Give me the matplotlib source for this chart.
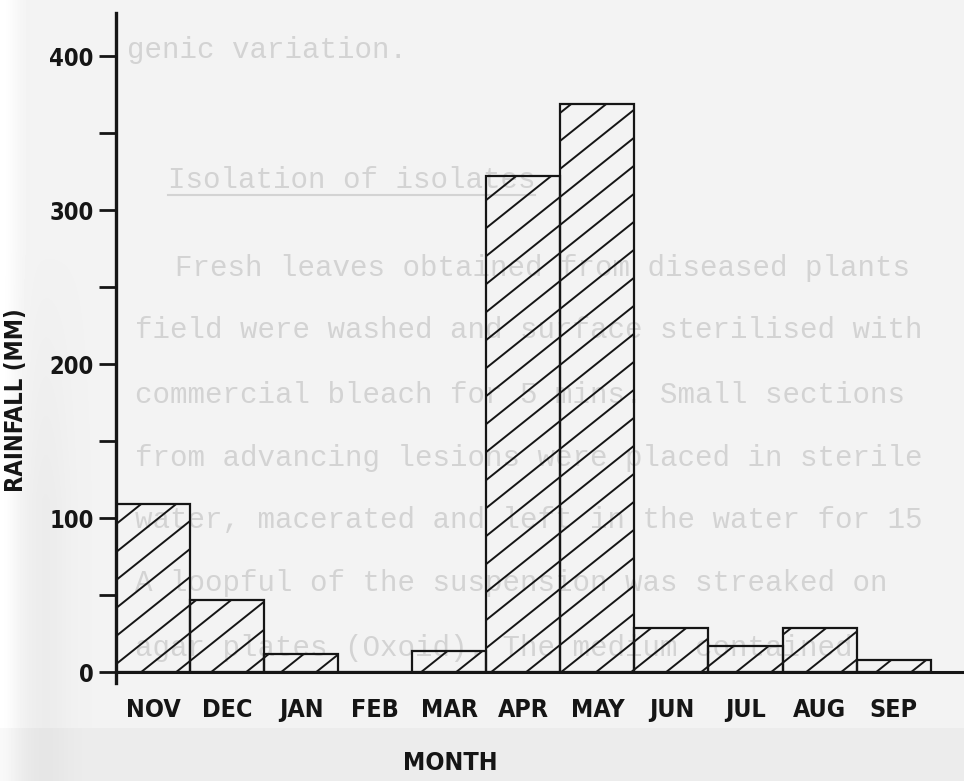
import numpy as np
import matplotlib
matplotlib.use('Agg')
import matplotlib.pyplot as plt
from matplotlib import font_manager as fm
from matplotlib.collections import LineCollection
from matplotlib.lines import Line2D
from matplotlib.transforms import IdentityTransform

# rainfall per month (mm)
months = ['NOV', 'DEC', 'JAN', 'FEB', 'MAR', 'APR', 'MAY', 'JUN', 'JUL', 'AUG', 'SEP']
rainfall = [109, 47, 12, 0, 14, 322, 369, 29, 17, 29, 8]
major_ticks = [0, 100, 200, 300, 400]
minor_ticks = [50, 150, 250, 350]

# typescript from the page behind, showing through the scan
page_lines = [
    'genic variation.',
    'Isolation of isolates',
    'Fresh leaves obtained from diseased plants',
    'field were washed and surface sterilised with',
    'commercial bleach for 5 mins. Small sections',
    'from advancing lesions were placed in sterile',
    'water, macerated and left in the water for 15',
    'A loopful of the suspension was streaked on',
    'agar plates (Oxoid). The medium contained',
]
page_x = [127, 168, 175, 135, 135, 135, 135, 135, 135]
page_y = [50, 180, 268, 330, 395, 458, 520, 583, 648]

W, H = 964, 781
INK = '#151515'
GHOST = '#d3d3d3'


def pick_narrow_bold():
    # the original lettering is a tall condensed stencil face; use a narrow bold if one is installed
    for f in fm.fontManager.ttflist:
        nm = f.name.lower()
        stretch = str(f.stretch).lower()
        bold = f.weight in ('bold', 'heavy', 'black') or (isinstance(f.weight, int) and f.weight >= 600)
        if bold and ('narrow' in nm or 'condensed' in nm or 'condensed' in stretch):
            return fm.FontProperties(fname=f.fname)
    return fm.FontProperties(family='Liberation Sans', weight='bold')


label_fp = pick_narrow_bold()

fig = plt.figure(figsize=(W / 100, H / 100), dpi=100, facecolor='#f2f2f2')

# paper tone: slightly darker strip at the bottom, pale left edge
bg = np.full((H, W), 0.95)
bg[728:, :] = 0.925
xx = np.arange(W)
yy = np.arange(H)
bg += 0.05 * np.exp(-(xx / 18.0) ** 2)[None, :]
ramp = np.clip((yy - 250) / 250.0, 0, 1)
bg -= 0.025 * np.exp(-((xx - 45) / 25.0) ** 2)[None, :] * ramp[:, None]
fig.figimage(np.clip(bg, 0, 1), cmap='gray', vmin=0, vmax=1, zorder=-5, origin='upper')

for txt, px, py in zip(page_lines, page_x, page_y):
    fig.text(px / W, 1 - py / H, txt, family='Liberation Mono', fontsize=21,
             color=GHOST, va='center', ha='left', zorder=-1)
# the section heading is underlined
fig.add_artist(Line2D([168 / W, 535 / W], [1 - 195 / H, 1 - 195 / H],
                      color=GHOST, linewidth=1.5, zorder=-1))

ax = fig.add_axes([116 / W, (H - 683) / H, 848 / W, 670 / H])
ax.patch.set_visible(False)

x = np.arange(len(months))
bars = ax.bar(x, rainfall, width=1.0, align='edge', facecolor='none',
              edgecolor=INK, linewidth=1.6, zorder=3)

# coarse diagonal hatching, clipped to each bar
segs = [[(0, c), (W, c + 0.8 * W)] for c in np.arange(-900, 800, 28)]
for b in bars:
    if b.get_height() <= 0:
        continue
    lc = LineCollection(segs, colors=INK, linewidths=1.4,
                        transform=IdentityTransform(), zorder=2)
    ax.add_collection(lc)
    lc.set_clip_path(b)

ax.axhline(0, color=INK, linewidth=2.2, zorder=4)

ax.set_xlim(0, 11.45)
ax.set_ylim(-7, 428)

for s in ['top', 'right', 'bottom']:
    ax.spines[s].set_visible(False)
ax.spines['left'].set_linewidth(2.4)
ax.spines['left'].set_color(INK)

ax.set_yticks(major_ticks)
ax.set_yticks(minor_ticks, minor=True)
ax.tick_params(axis='y', which='both', direction='out', length=12, width=2,
               color=INK, pad=4)
for lab in ax.get_yticklabels():
    lab.set_fontproperties(label_fp)
    lab.set_fontsize(17)
    lab.set_color(INK)

ax.set_xticks(x + 0.5)
ax.set_xticklabels(months)
ax.tick_params(axis='x', length=0, pad=11)
for lab in ax.get_xticklabels():
    lab.set_fontproperties(label_fp)
    lab.set_fontsize(18)
    lab.set_color(INK)

fig.text(16 / W, 1 - 400 / H, 'RAINFALL (MM)', rotation=90, ha='center', va='center',
         fontproperties=label_fp, fontsize=17, color=INK)
fig.text(450 / W, 1 - 763 / H, 'MONTH', ha='center', va='center',
         fontproperties=label_fp, fontsize=18, color=INK)

fig.savefig('out.png', dpi=100, facecolor=fig.get_facecolor())
